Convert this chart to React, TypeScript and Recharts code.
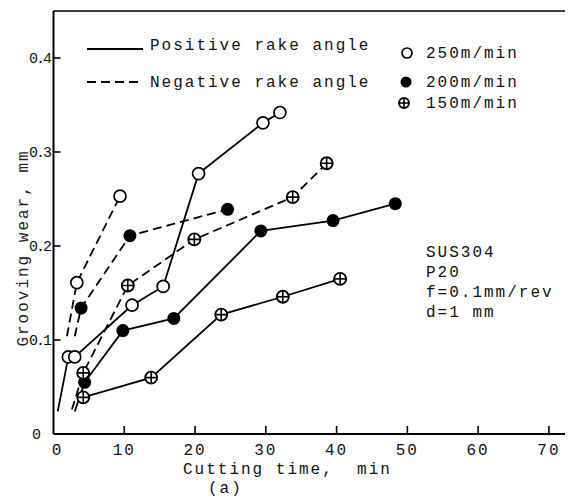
import { LineChart, Line, XAxis, YAxis, ReferenceLine } from "recharts"

const timeTicks = [0, 10, 20, 30, 40, 50, 60, 70]
const wearTicks = [0, 0.1, 0.2, 0.3, 0.4]

// Positive rake angle (solid lines)
const posTime250 = [0.6, 2.1, 3.0, 11.1, 15.5, 20.5, 29.6, 32.0]
const posWear250 = [0.024, 0.082, 0.082, 0.137, 0.157, 0.277, 0.331, 0.342]
const posTime200 = [3.0, 4.4, 9.8, 17.0, 29.3, 39.5, 48.3]
const posWear200 = [0.024, 0.055, 0.11, 0.123, 0.216, 0.227, 0.245]
const posTime150 = [4.2, 13.8, 23.7, 32.4, 40.5]
const posWear150 = [0.039, 0.06, 0.127, 0.146, 0.165]

// Negative rake angle (dashed lines)
const negTime250 = [1.9, 3.3, 9.4]
const negWear250 = [0.104, 0.161, 0.253]
const negTime200 = [3.0, 3.9, 10.8, 24.6]
const negWear200 = [0.104, 0.134, 0.211, 0.239]
const negTime150 = [2.6, 4.2, 10.5, 19.9, 33.8, 38.6]
const negWear150 = [0.026, 0.065, 0.158, 0.207, 0.252, 0.288]

const speedLabels = ["250m/min", "200m/min", "150m/min"]
const rakeLabels = ["Positive rake angle", "Negative rake angle"]
const conditionLines = ["SUS304", "P20", "f=0.1mm/rev", "d=1 mm"]

const FONT = "'Liberation Mono', 'DejaVu Sans Mono', monospace"
const INK = "#111"
const DASH = "9 5"

// plot box in svg coords (chart starts 8px into the page)
const PLOT_LEFT = 45.5
const PLOT_BOTTOM = 426

type Kind = "open" | "filled" | "cross"

const toPoints = (time: number[], wear: number[]) => time.map((t, i) => ({ time: t, wear: wear[i] }))

const series = [
  { key: "pos250", data: toPoints(posTime250, posWear250), kind: "open" as Kind, dashed: false, bareStart: true },
  { key: "pos200", data: toPoints(posTime200, posWear200), kind: "filled" as Kind, dashed: false, bareStart: true },
  { key: "pos150", data: toPoints(posTime150, posWear150), kind: "cross" as Kind, dashed: false, bareStart: false },
  { key: "neg250", data: toPoints(negTime250, negWear250), kind: "open" as Kind, dashed: true, bareStart: true },
  { key: "neg200", data: toPoints(negTime200, negWear200), kind: "filled" as Kind, dashed: true, bareStart: true },
  { key: "neg150", data: toPoints(negTime150, negWear150), kind: "cross" as Kind, dashed: true, bareStart: true },
]

function Marker({ kind, cx, cy, r }: { kind: Kind; cx: number; cy: number; r: number }) {
  if (kind === "filled") return <circle cx={cx} cy={cy} r={r + 0.5} fill="#000" />
  if (kind === "open") return <circle cx={cx} cy={cy} r={r} fill="#fff" stroke="#000" strokeWidth={1.7} />
  return (
    <g>
      <circle cx={cx} cy={cy} r={r} fill="#fff" stroke="#000" strokeWidth={1.9} />
      <line x1={cx - r} y1={cy} x2={cx + r} y2={cy} stroke="#000" strokeWidth={1.6} />
      <line x1={cx} y1={cy - r} x2={cx} y2={cy + r} stroke="#000" strokeWidth={1.6} />
    </g>
  )
}

const YTick = (p: any) => (
  <g>
    <line x1={PLOT_LEFT} y1={p.y} x2={PLOT_LEFT + 7} y2={p.y} stroke="#000" strokeWidth={1.6} />
    <text x={p.payload.value === 0 ? 24 : 21} y={p.y} dy="0.35em" fontFamily={FONT} fontSize={15} letterSpacing={-2} fill={INK}>
      {p.payload.value === 0 ? "0" : p.payload.value.toFixed(1)}
    </text>
  </g>
)

const XTick = (p: any) => (
  <g>
    {p.payload.value !== 0 && (
      <line x1={p.x} y1={PLOT_BOTTOM} x2={p.x} y2={PLOT_BOTTOM - 8} stroke="#000" strokeWidth={1.6} />
    )}
    <text x={p.x + (p.payload.value === 0 ? 4 : 0)} y={441} dy="0.35em" textAnchor="middle" fontFamily={FONT} fontSize={16} letterSpacing={2} fill={INK}>
      {p.payload.value}
    </text>
  </g>
)

export default function App() {
  const txt = { fontFamily: FONT, fontSize: 16, letterSpacing: 2, fill: INK }
  return (
    <div style={{ position: "relative", width: 565, height: 491 }}>
      <LineChart width={565} height={491} margin={{ top: 3, right: 5, left: 5.5, bottom: 35 }}>
        <XAxis
          type="number"
          dataKey="time"
          domain={[0, 72.7]}
          ticks={timeTicks}
          height={30}
          tick={XTick}
          tickLine={false}
          axisLine={{ stroke: "#000", strokeWidth: 2 }}
          allowDataOverflow
        />
        <YAxis
          type="number"
          dataKey="wear"
          domain={[0, 0.45]}
          ticks={wearTicks}
          width={40}
          tick={YTick}
          tickLine={false}
          axisLine={{ stroke: "#000", strokeWidth: 2 }}
          allowDataOverflow
        />
        <ReferenceLine y={0.45} stroke="#000" strokeWidth={1.5} />
        <ReferenceLine x={72.7} stroke="#000" strokeWidth={1.5} />
        {series.map((s) => (
          <Line
            key={s.key}
            data={s.data}
            dataKey="wear"
            type="linear"
            stroke="#000"
            strokeWidth={1.8}
            strokeDasharray={s.dashed ? DASH : undefined}
            isAnimationActive={false}
            dot={(p: any) =>
              p.index === 0 && s.bareStart ? (
                <g key={`${s.key}-${p.index}`} />
              ) : (
                <g key={`${s.key}-${p.index}`}>
                  <Marker kind={s.kind} cx={p.cx} cy={p.cy} r={6} />
                </g>
              )
            }
            activeDot={false}
          />
        ))}
      </LineChart>
      <svg width={565} height={491} style={{ position: "absolute", left: 0, top: 0, pointerEvents: "none" }}>
        {/* line-style legend */}
        <line x1={79} y1={41} x2={135} y2={41} stroke="#000" strokeWidth={1.8} />
        <text x={142} y={42} {...txt}>{rakeLabels[0]}</text>
        <line x1={79} y1={74} x2={135} y2={74} stroke="#000" strokeWidth={1.8} strokeDasharray={DASH} />
        <text x={142} y={79} {...txt}>{rakeLabels[1]}</text>
        {/* marker legend */}
        <Marker kind="open" cx={399} cy={45} r={5} />
        <text x={418} y={50} {...txt}>{speedLabels[0]}</text>
        <Marker kind="filled" cx={398} cy={74} r={5} />
        <text x={418} y={79} {...txt}>{speedLabels[1]}</text>
        <Marker kind="cross" cx={396} cy={95} r={5} />
        <text x={418} y={100} {...txt}>{speedLabels[2]}</text>
        {/* test conditions */}
        {conditionLines.map((l, i) => (
          <text key={l} x={418} y={249 + i * 20} {...txt}>{l}</text>
        ))}
        {/* axis titles */}
        <text x={175} y={466} {...txt} xmlSpace="preserve">Cutting time,  min</text>
        <text x={200} y={485} {...txt}>(a)</text>
        <text
          x={14}
          y={240}
          transform="rotate(-90 14 240)"
          textAnchor="middle"
          dy="0.35em"
          {...txt}
          fill="#222"
        >
          Grooving wear, mm
        </text>
      </svg>
    </div>
  )
}
